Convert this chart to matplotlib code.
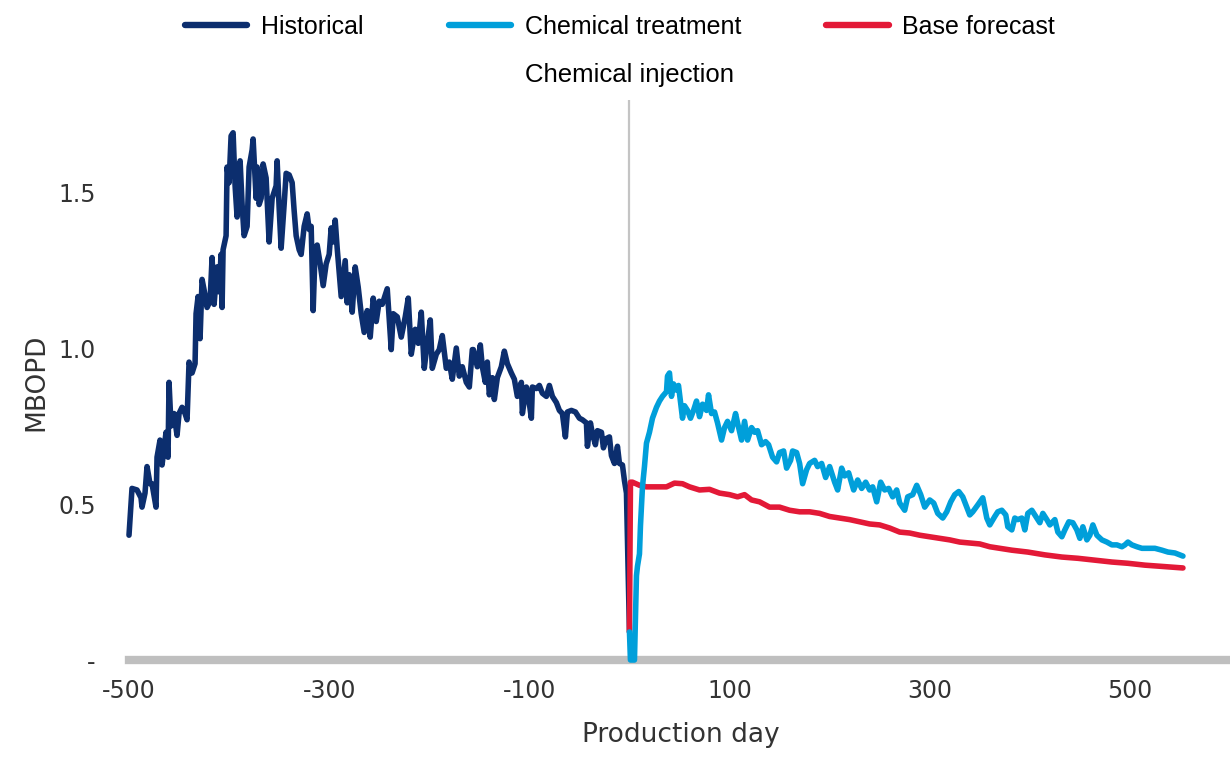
import matplotlib
matplotlib.use("Agg")
import matplotlib.pyplot as plt
from matplotlib.lines import Line2D
from matplotlib.transforms import blended_transform_factory

# ---- Data -------------------------------------------------------------
hist_day = [-500, -499, -497, -492, -488, -487, -484, -482, -479, -477, -473, -472,
            -469, -467, -463, -461, -460, -458, -455, -452, -450, -447, -444, -442,
            -440, -437, -434, -433, -431, -429, -427, -424, -422, -419, -417, -415,
            -412, -410, -408, -407, -406, -403, -402, -400, -398, -396, -394, -392,
            -389, -387, -385, -382, -380, -377, -376, -373, -372, -370, -368, -366,
            -363, -360, -357, -353, -352, -350, -348, -345, -343, -340, -337, -335,
            -333, -330, -328, -325, -322, -320, -318, -316, -314, -312, -309, -306,
            -303, -300, -298, -296, -294, -292, -288, -284, -282, -280, -277, -274,
            -271, -268, -265, -262, -259, -256, -253, -250, -247, -242, -238, -236,
            -232, -228, -224, -221, -218, -214, -211, -208, -205, -202, -199, -197,
            -193, -190, -187, -183, -180, -177, -173, -170, -167, -163, -160, -157,
            -156, -152, -149, -147, -144, -142, -140, -137, -135, -132, -128, -125,
            -122, -118, -115, -112, -108, -107, -103, -101, -98, -97, -93, -90,
            -87, -83, -80, -77, -73, -70, -67, -64, -62, -58, -54, -50,
            -47, -43, -42, -39, -37, -34, -32, -28, -26, -23, -20, -18,
            -15, -12, -10, -7, -5, -3, 0]
hist_mbopd = [0.40, 0.45, 0.55, 0.545, 0.52, 0.49, 0.535, 0.62, 0.565, 0.565, 0.49, 0.65,
              0.705, 0.625, 0.73, 0.65, 0.89, 0.75, 0.79, 0.72, 0.79, 0.81, 0.79, 0.77,
              0.955, 0.92, 0.95, 1.11, 1.165, 1.03, 1.22, 1.17, 1.13, 1.15, 1.29, 1.14,
              1.26, 1.18, 1.30, 1.13, 1.315, 1.36, 1.58, 1.53, 1.68, 1.69, 1.52, 1.42,
              1.60, 1.46, 1.36, 1.39, 1.58, 1.635, 1.67, 1.48, 1.58, 1.46, 1.48, 1.59,
              1.545, 1.34, 1.48, 1.52, 1.60, 1.45, 1.32, 1.46, 1.56, 1.555, 1.53, 1.44,
              1.36, 1.315, 1.30, 1.39, 1.43, 1.38, 1.39, 1.12, 1.32, 1.33, 1.27, 1.20,
              1.27, 1.30, 1.385, 1.34, 1.41, 1.32, 1.165, 1.28, 1.145, 1.235, 1.115, 1.26,
              1.195, 1.11, 1.05, 1.12, 1.035, 1.16, 1.085, 1.15, 1.14, 1.19, 0.995, 1.11,
              1.10, 1.035, 1.10, 1.16, 0.98, 1.06, 1.015, 1.115, 0.935, 1.015, 1.09, 0.935,
              0.98, 0.995, 1.04, 0.935, 0.955, 0.90, 1.00, 0.91, 0.94, 0.89, 0.875, 0.995,
              0.995, 0.94, 1.01, 0.94, 0.89, 0.955, 0.85, 0.905, 0.835, 0.905, 0.94, 0.99,
              0.95, 0.92, 0.90, 0.845, 0.89, 0.79, 0.875, 0.845, 0.775, 0.875, 0.87, 0.88,
              0.855, 0.845, 0.88, 0.845, 0.825, 0.80, 0.79, 0.715, 0.795, 0.80, 0.795, 0.775,
              0.77, 0.76, 0.685, 0.76, 0.725, 0.69, 0.735, 0.73, 0.68, 0.71, 0.715, 0.655,
              0.63, 0.685, 0.63, 0.625, 0.575, 0.535, 0.09]

treat_day = [0, 1, 5, 7, 8, 10, 11, 13, 15, 17, 20, 23, 27, 30, 33, 37, 38, 40, 42, 44,
             47, 49, 53, 55, 58, 61, 64, 67, 70, 73, 77, 79, 82, 85, 88, 92, 95, 98, 102,
             106, 108, 112, 115, 118, 122, 125, 128, 132, 136, 139, 143, 147, 150, 154,
             157, 161, 163, 167, 170, 173, 177, 180, 185, 188, 192, 196, 200, 205, 208,
             212, 215, 219, 224, 228, 232, 236, 240, 243, 247, 251, 255, 259, 263, 267,
             270, 275, 278, 283, 287, 291, 295, 300, 304, 308, 313, 317, 321, 325, 329,
             333, 337, 340, 343, 348, 353, 357, 360, 365, 368, 372, 376, 378, 382, 385,
             388, 392, 395, 398, 402, 406, 410, 413, 417, 420, 425, 428, 432, 435, 439,
             443, 447, 450, 453, 457, 460, 463, 467, 472, 477, 482, 487, 492, 495, 498,
             502, 507, 512, 518, 525, 532, 538, 545, 553]
treat_mbopd = [0.09, 0.0, 0.0, 0.27, 0.30, 0.34, 0.43, 0.555, 0.62, 0.695, 0.73, 0.775,
               0.81, 0.83, 0.845, 0.86, 0.91, 0.92, 0.845, 0.885, 0.865, 0.88, 0.775, 0.815,
               0.80, 0.775, 0.80, 0.83, 0.78, 0.82, 0.80, 0.85, 0.79, 0.795, 0.76, 0.705,
               0.745, 0.765, 0.735, 0.79, 0.76, 0.705, 0.765, 0.705, 0.745, 0.73, 0.735,
               0.69, 0.70, 0.69, 0.65, 0.635, 0.665, 0.67, 0.615, 0.64, 0.67, 0.665, 0.63,
               0.565, 0.61, 0.63, 0.64, 0.62, 0.63, 0.585, 0.62, 0.57, 0.545, 0.615, 0.59,
               0.60, 0.545, 0.577, 0.55, 0.57, 0.545, 0.555, 0.507, 0.57, 0.545, 0.55,
               0.523, 0.545, 0.503, 0.48, 0.523, 0.53, 0.56, 0.53, 0.49, 0.513, 0.503,
               0.47, 0.455, 0.475, 0.507, 0.53, 0.54, 0.523, 0.49, 0.465, 0.475, 0.497,
               0.52, 0.455, 0.433, 0.46, 0.475, 0.48, 0.465, 0.427, 0.417, 0.455, 0.45,
               0.455, 0.417, 0.47, 0.48, 0.46, 0.44, 0.47, 0.45, 0.433, 0.45, 0.41, 0.395,
               0.417, 0.443, 0.44, 0.417, 0.39, 0.427, 0.385, 0.40, 0.433, 0.40, 0.385,
               0.378, 0.369, 0.369, 0.363, 0.369, 0.378, 0.369, 0.363, 0.358, 0.358,
               0.358, 0.352, 0.346, 0.343, 0.333]

base_day = [0, 1, 3, 10, 17, 23, 30, 37, 45, 53, 60, 70, 80, 90, 100, 108, 115, 122,
            130, 140, 150, 160, 170, 180, 190, 200, 210, 220, 230, 240, 250, 260, 270,
            280, 290, 300, 310, 320, 330, 340, 350, 360, 382, 398, 415, 432, 448, 465,
            482, 498, 515, 532, 553]
base_mbopd = [0.09, 0.57, 0.57, 0.56, 0.555, 0.555, 0.555, 0.555, 0.567, 0.565, 0.555,
              0.545, 0.547, 0.535, 0.53, 0.523, 0.53, 0.513, 0.507, 0.49, 0.49, 0.48,
              0.475, 0.475, 0.47, 0.46, 0.455, 0.45, 0.443, 0.436, 0.433, 0.423, 0.41,
              0.407, 0.40, 0.395, 0.39, 0.385, 0.378, 0.375, 0.372, 0.363, 0.352, 0.346,
              0.337, 0.33, 0.326, 0.32, 0.314, 0.31, 0.304, 0.30, 0.295]

x_ticks = [-500, -300, -100, 100, 300, 500]
x_tick_labels = ["-500", "-300", "-100", "100", "300", "500"]
y_ticks = [0, 0.5, 1.0, 1.5]
y_tick_labels = ["-", "0.5", "1.0", "1.5"]
injection_day = 0

# ---- Styling ----------------------------------------------------------
NAVY = "#0c2e6e"
CYAN = "#009fda"
RED = "#e31937"
GREY = "#bfbfbf"
TEXT = "#333333"
label_family = ["Liberation Sans", "DejaVu Sans"]

fig = plt.figure(figsize=(12.3, 7.62), dpi=100)
ax = fig.add_axes([129 / 1230, 102 / 762, 1101 / 1230, 560 / 762])
ax.set_xlim(-500, 600)
ax.set_ylim(0, 1.795)
for s in ax.spines.values():
    s.set_visible(False)

# baseline and injection marker
ax.axhline(0, color=GREY, lw=6, zorder=1, clip_on=False)
ax.axvline(injection_day, color="#c4c4c4", lw=1.6, zorder=0.5)

kw = dict(lw=4.0, solid_joinstyle="round", solid_capstyle="round", clip_on=False)
ax.plot(hist_day, hist_mbopd, color=NAVY, zorder=3, **kw)
ax.plot(base_day, base_mbopd, color=RED, zorder=4, **kw)
ax.plot(treat_day, treat_mbopd, color=CYAN, zorder=5, **kw)

ax.set_xticks(x_ticks)
ax.set_xticklabels(x_tick_labels)
ax.set_yticks(y_ticks)
ax.set_yticklabels(y_tick_labels)
ax.tick_params(axis="both", length=0, labelsize=17, labelcolor=TEXT)
ax.tick_params(axis="x", pad=14)
ax.tick_params(axis="y", pad=24)

ax.set_xlabel("Production day", fontsize=19, color=TEXT)
ax.xaxis.set_label_coords(552 / 1101, -62 / 560)
ax.set_ylabel("MBOPD", fontsize=19, color=TEXT)
ax.yaxis.set_label_coords(-80 / 1101, 278 / 560)

trans = blended_transform_factory(ax.transData, ax.transAxes)
ax.text(injection_day, 1.045, "Chemical injection", transform=trans,
        ha="center", va="center", fontsize=18.5, family=label_family, color="black")

handles = [
    Line2D([], [], color=NAVY, lw=4.6, solid_capstyle="round", label="Historical"),
    Line2D([], [], color=CYAN, lw=4.6, solid_capstyle="round", label="Chemical treatment"),
    Line2D([], [], color=RED, lw=4.6, solid_capstyle="round", label="Base forecast"),
]
fig.legend(handles=handles, loc="center", bbox_to_anchor=(620 / 1230, 1 - 27 / 762),
           ncol=3, frameon=False, handlelength=2.5, handletextpad=0.55,
           columnspacing=3.4, prop={"family": label_family, "size": 18})

fig.savefig("out.png", dpi=100)
